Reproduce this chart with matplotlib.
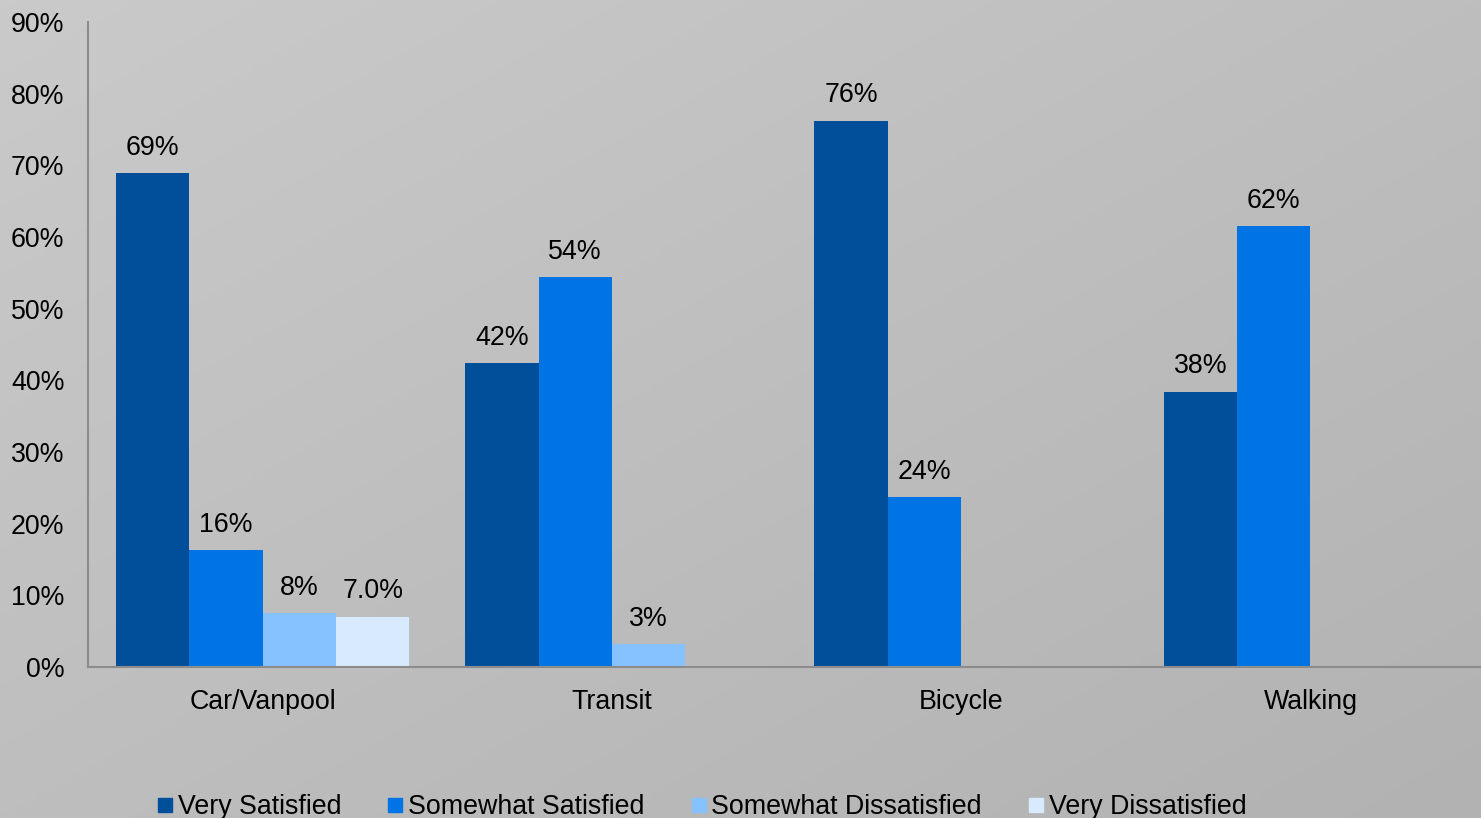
import matplotlib
matplotlib.use('Agg')
import matplotlib.pyplot as plt
import numpy as np
from matplotlib.lines import Line2D

plt.rcParams['font.family'] = ['Liberation Sans', 'DejaVu Sans']

modes = ['Car/Vanpool', 'Transit', 'Bicycle', 'Walking']
series = ['Very Satisfied', 'Somewhat Satisfied', 'Somewhat Dissatisfied', 'Very Dissatisfied']
very_satisfied = [68.9, 42.4, 76.2, 38.4]
somewhat_satisfied = [16.3, 54.4, 23.7, 61.5]
somewhat_dissatisfied = [7.5, 3.2, 0, 0]
very_dissatisfied = [7.0, 0, 0, 0]
labels = [
    ['69%', '42%', '76%', '38%'],
    ['16%', '54%', '24%', '62%'],
    ['8%', '3%', '', ''],
    ['7.0%', '', '', ''],
]
colors = ['#014f9a', '#0074e4', '#86c2ff', '#d8eaff']
fs = 19.3

fig = plt.figure(figsize=(14.81, 8.18), dpi=100)

# diagonal gray gradient background
bg = fig.add_axes([0, 0, 1, 1], zorder=-10)
yy, xx = np.mgrid[0:1:200j, 0:1:200j]
grad = 0.5 * xx + 0.5 * yy
bg.imshow(grad, cmap=matplotlib.colors.LinearSegmentedColormap.from_list(
    'g', ['#cacaca', '#b2b2b2']), extent=[0, 1, 0, 1], aspect='auto', origin='upper')
bg.axis('off')

W, H = 1481, 818
ax = fig.add_axes([88 / W, 1 - 667 / H, 1397 / W, (667 - 22) / H])
ax.patch.set_alpha(0)

x = np.arange(len(modes))
width = 0.21
all_vals = [very_satisfied, somewhat_satisfied, somewhat_dissatisfied, very_dissatisfied]
for i, vals in enumerate(all_vals):
    pos = x + (i - 1.5) * width
    for j, v in enumerate(vals):
        if v <= 0:
            continue
        ax.bar(pos[j], v, width, color=colors[i], edgecolor='none')
        ax.annotate(labels[i][j], (pos[j], v), textcoords='offset points',
                    xytext=(0, 9), ha='center', va='bottom', fontsize=fs)

ax.set_xlim(-0.5, 3.5)
ax.set_ylim(0, 90)
ax.set_yticks(range(0, 91, 10))
ax.set_yticklabels([f'{t}%' for t in range(0, 91, 10)], fontsize=fs)
ax.set_xticks(x)
ax.set_xticklabels(modes, fontsize=fs)
ax.tick_params(length=0)
ax.tick_params(axis='y', pad=17)
ax.tick_params(axis='x', pad=16)
for s in ['top', 'right']:
    ax.spines[s].set_visible(False)
for s in ['left', 'bottom']:
    ax.spines[s].set_color('#8c8c8c')
    ax.spines[s].set_linewidth(1.5)

handles = [Line2D([], [], marker='s', linestyle='', color=c, markersize=10) for c in colors]
fig.legend(handles, series, loc='center', bbox_to_anchor=(702 / W, 1 - 807 / H),
           ncol=4, frameon=False, fontsize=fs, handlelength=0.55, handletextpad=0.2,
           columnspacing=1.75)

fig.savefig('out.png', dpi=100)
